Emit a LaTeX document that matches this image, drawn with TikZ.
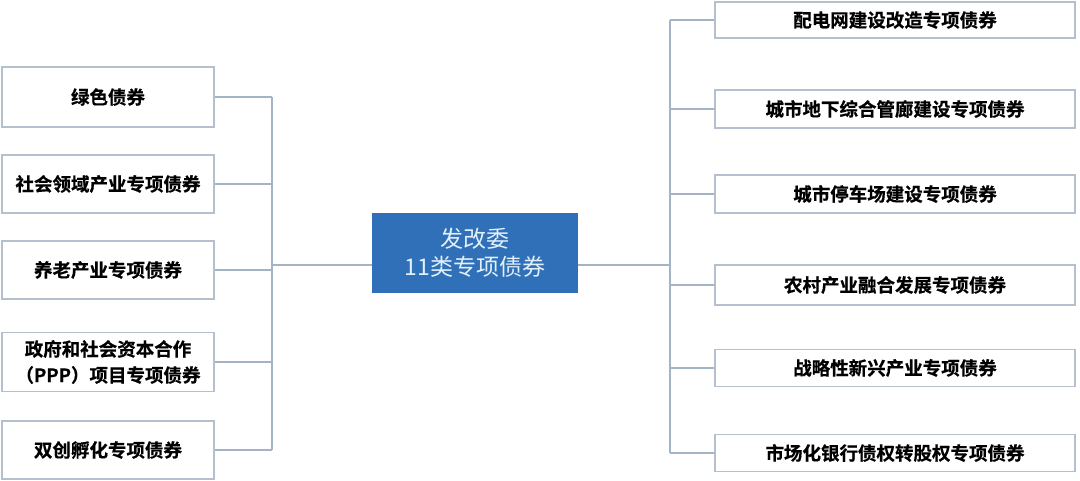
\documentclass[tikz,border=0pt]{standalone}
\usepackage{fontspec}
\newfontfamily\cjk{Noto Sans CJK SC}
\newfontfamily\cjkb[FakeBold=0.6]{Noto Sans CJK SC Bold}
\definecolor{bordc}{HTML}{B4C0CE}
\definecolor{linec}{HTML}{A3B4C6}
\definecolor{hubc}{HTML}{3070B8}
\definecolor{hubt}{HTML}{E2F0FA}
\begin{document}
\begin{tikzpicture}[x=1pt,y=-1pt,
  leaf/.style={draw=bordc,line width=1.6pt,fill=white,inner sep=0pt,font=\cjkb\fontsize{18.5}{26}\selectfont,align=center,text=black},
  hub/.style={fill=hubc,inner sep=0pt,minimum width=206pt,minimum height=80pt,font=\cjk\fontsize{23}{28}\selectfont,align=center,text=hubt},
  conn/.style={draw=linec,line width=1.2pt}]
\useasboundingbox (0,0) rectangle (1080,480);
\fill[white] (0,0) rectangle (1080,480);
% left leaves
\node[leaf,minimum width=212pt,minimum height=60pt] (l1) at (108,97) {绿色债券};
\node[leaf,minimum width=212pt,minimum height=58pt] (l2) at (108,184) {社会领域产业专项债券};
\node[leaf,minimum width=212pt,minimum height=58pt] (l3) at (108,270) {养老产业专项债券};
\node[leaf,minimum width=212pt,minimum height=59pt] (l4) at (108,362) {政府和社会资本合作\\（PPP）项目专项债券};
\node[leaf,minimum width=212pt,minimum height=58pt] (l5) at (108,450) {双创孵化专项债券};
% hub
\node[hub] (hub) at (475,253) {发改委\\11类专项债券};
% right leaves
\node[leaf,minimum width=360pt,minimum height=36pt] (r1) at (895,20) {配电网建设改造专项债券};
\node[leaf,minimum width=360pt,minimum height=38pt] (r2) at (895,109) {城市地下综合管廊建设专项债券};
\node[leaf,minimum width=360pt,minimum height=38pt] (r3) at (895,194) {城市停车场建设专项债券};
\node[leaf,minimum width=360pt,minimum height=40pt] (r4) at (895,285) {农村产业融合发展专项债券};
\node[leaf,minimum width=360pt,minimum height=37pt] (r5) at (895,368) {战略性新兴产业专项债券};
\node[leaf,minimum width=360pt,minimum height=37pt] (r6) at (895,453) {市场化银行债权转股权专项债券};
% bus coordinates
\coordinate (lb1) at (272,97);
\coordinate (lb5) at (272,450);
\coordinate (lbm) at (272,265);
\coordinate (rb1) at (670,20);
\coordinate (rb6) at (670,453);
\coordinate (rbm) at (670,265);
\draw[conn] (lb1) -- (lb5);
\draw[conn] (rb1) -- (rb6);
\foreach \n in {l1,l2,l3,l4,l5} \draw[conn] (\n.east) -- (\n.east -| lbm);
\foreach \n in {r1,r2,r3,r4,r5,r6} \draw[conn] (\n.west) -- (\n.west -| rbm);
\draw[conn] (lbm) -- (hub.west |- lbm);
\draw[conn] (hub.east |- rbm) -- (rbm);
\end{tikzpicture}
\end{document}
